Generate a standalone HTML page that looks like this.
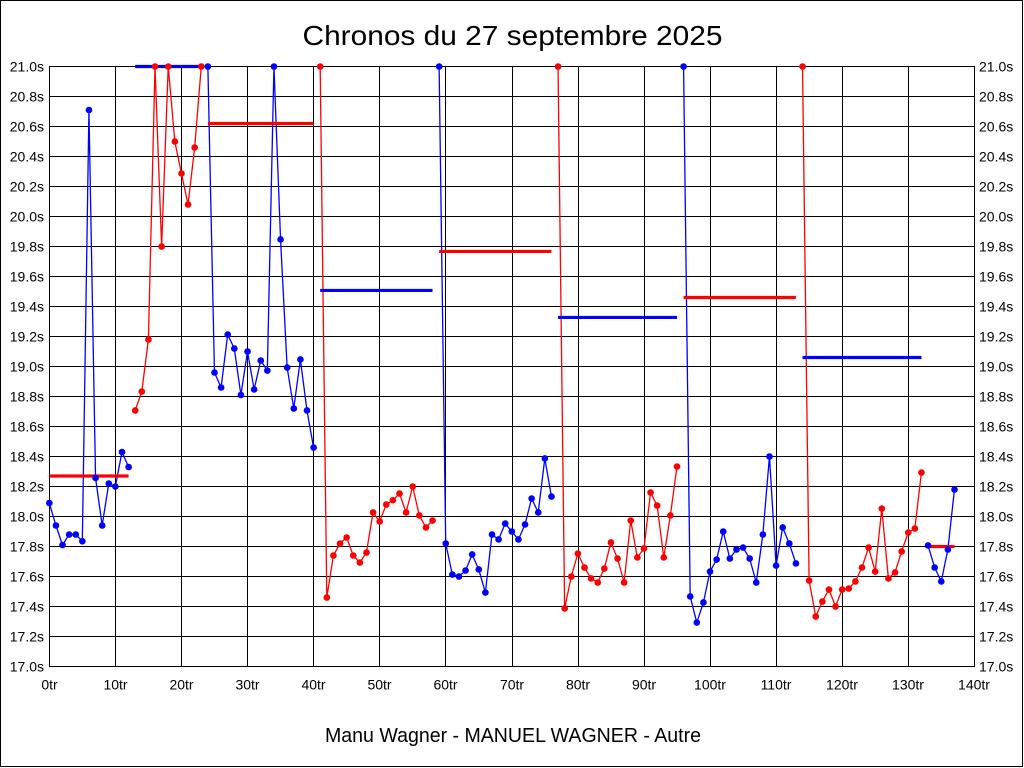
<!DOCTYPE html>
<html>
<head>
<meta charset="utf-8">
<style>
html,body{margin:0;padding:0;background:#fff;}
svg{display:block;}
text{font-family:"Liberation Sans",Arial,sans-serif;fill:#000;}
.yl{font-size:14px;}
.xl{font-size:14px;text-anchor:middle;}
</style>
</head>
<body>
<svg width="1024" height="768" viewBox="0 0 1024 768" xmlns="http://www.w3.org/2000/svg">
<rect x="0" y="0" width="1024" height="768" fill="#fff"/>
<rect x="0.5" y="0.5" width="1022" height="766" fill="none" stroke="#000" stroke-width="1"/>

<text x="512.5" y="45" font-size="28" text-anchor="middle" textLength="420" lengthAdjust="spacingAndGlyphs">Chronos du 27 septembre 2025</text>
<text x="513" y="742" font-size="20" text-anchor="middle" textLength="376" lengthAdjust="spacingAndGlyphs">Manu Wagner - MANUEL WAGNER - Autre</text>

<g stroke="#000" stroke-width="1" shape-rendering="crispEdges">
<line x1="49" y1="66.5" x2="975" y2="66.5"/>
<line x1="49" y1="96.5" x2="975" y2="96.5"/>
<line x1="49" y1="126.5" x2="975" y2="126.5"/>
<line x1="49" y1="156.5" x2="975" y2="156.5"/>
<line x1="49" y1="186.5" x2="975" y2="186.5"/>
<line x1="49" y1="216.5" x2="975" y2="216.5"/>
<line x1="49" y1="246.5" x2="975" y2="246.5"/>
<line x1="49" y1="276.5" x2="975" y2="276.5"/>
<line x1="49" y1="306.5" x2="975" y2="306.5"/>
<line x1="49" y1="336.5" x2="975" y2="336.5"/>
<line x1="49" y1="366.5" x2="975" y2="366.5"/>
<line x1="49" y1="396.5" x2="975" y2="396.5"/>
<line x1="49" y1="426.5" x2="975" y2="426.5"/>
<line x1="49" y1="456.5" x2="975" y2="456.5"/>
<line x1="49" y1="486.5" x2="975" y2="486.5"/>
<line x1="49" y1="516.5" x2="975" y2="516.5"/>
<line x1="49" y1="546.5" x2="975" y2="546.5"/>
<line x1="49" y1="576.5" x2="975" y2="576.5"/>
<line x1="49" y1="606.5" x2="975" y2="606.5"/>
<line x1="49" y1="636.5" x2="975" y2="636.5"/>
<line x1="49" y1="666.5" x2="975" y2="666.5"/>
<line x1="49.5" y1="66" x2="49.5" y2="667"/>
<line x1="115.5" y1="66" x2="115.5" y2="667"/>
<line x1="181.5" y1="66" x2="181.5" y2="667"/>
<line x1="247.5" y1="66" x2="247.5" y2="667"/>
<line x1="313.5" y1="66" x2="313.5" y2="667"/>
<line x1="379.5" y1="66" x2="379.5" y2="667"/>
<line x1="445.5" y1="66" x2="445.5" y2="667"/>
<line x1="512.5" y1="66" x2="512.5" y2="667"/>
<line x1="578.5" y1="66" x2="578.5" y2="667"/>
<line x1="644.5" y1="66" x2="644.5" y2="667"/>
<line x1="710.5" y1="66" x2="710.5" y2="667"/>
<line x1="776.5" y1="66" x2="776.5" y2="667"/>
<line x1="842.5" y1="66" x2="842.5" y2="667"/>
<line x1="908.5" y1="66" x2="908.5" y2="667"/>
<line x1="974.5" y1="66" x2="974.5" y2="667"/>
</g>

<g class="yl" text-anchor="end">
<text x="44" y="71.5">21.0s</text>
<text x="44" y="101.5">20.8s</text>
<text x="44" y="131.5">20.6s</text>
<text x="44" y="161.5">20.4s</text>
<text x="44" y="191.5">20.2s</text>
<text x="44" y="221.5">20.0s</text>
<text x="44" y="251.5">19.8s</text>
<text x="44" y="281.5">19.6s</text>
<text x="44" y="311.5">19.4s</text>
<text x="44" y="341.5">19.2s</text>
<text x="44" y="371.5">19.0s</text>
<text x="44" y="401.5">18.8s</text>
<text x="44" y="431.5">18.6s</text>
<text x="44" y="461.5">18.4s</text>
<text x="44" y="491.5">18.2s</text>
<text x="44" y="521.5">18.0s</text>
<text x="44" y="551.5">17.8s</text>
<text x="44" y="581.5">17.6s</text>
<text x="44" y="611.5">17.4s</text>
<text x="44" y="641.5">17.2s</text>
<text x="44" y="671.5">17.0s</text>
</g>
<g class="yl">
<text x="979" y="71.5">21.0s</text>
<text x="979" y="101.5">20.8s</text>
<text x="979" y="131.5">20.6s</text>
<text x="979" y="161.5">20.4s</text>
<text x="979" y="191.5">20.2s</text>
<text x="979" y="221.5">20.0s</text>
<text x="979" y="251.5">19.8s</text>
<text x="979" y="281.5">19.6s</text>
<text x="979" y="311.5">19.4s</text>
<text x="979" y="341.5">19.2s</text>
<text x="979" y="371.5">19.0s</text>
<text x="979" y="401.5">18.8s</text>
<text x="979" y="431.5">18.6s</text>
<text x="979" y="461.5">18.4s</text>
<text x="979" y="491.5">18.2s</text>
<text x="979" y="521.5">18.0s</text>
<text x="979" y="551.5">17.8s</text>
<text x="979" y="581.5">17.6s</text>
<text x="979" y="611.5">17.4s</text>
<text x="979" y="641.5">17.2s</text>
<text x="979" y="671.5">17.0s</text>
</g>
<g class="xl">
<text x="49.5" y="689.5">0tr</text>
<text x="115.5" y="689.5">10tr</text>
<text x="181.5" y="689.5">20tr</text>
<text x="247.5" y="689.5">30tr</text>
<text x="313.5" y="689.5">40tr</text>
<text x="379.5" y="689.5">50tr</text>
<text x="445.5" y="689.5">60tr</text>
<text x="512" y="689.5">70tr</text>
<text x="578" y="689.5">80tr</text>
<text x="644" y="689.5">90tr</text>
<text x="710" y="689.5">100tr</text>
<text x="776" y="689.5">110tr</text>
<text x="842" y="689.5">120tr</text>
<text x="908" y="689.5">130tr</text>
<text x="974" y="689.5">140tr</text>
</g>

<!-- data in (lap, seconds) units -->
<g transform="matrix(6.607 0 0 -150 49.3 3216.5)" fill="none" stroke-linejoin="round">
<g stroke="#0000ff" stroke-width="1.3">
<polyline vector-effect="non-scaling-stroke" points="0,18.09 1,17.94 2,17.81 3,17.88 4,17.88 5,17.835 6,20.71 7,18.257 8,17.94 9,18.22 10,18.2 11,18.43 12,18.33"/>
<polyline vector-effect="non-scaling-stroke" points="24,21 25,18.96 26,18.86 27,19.213 28,19.12 29,18.81 30,19.1 31,18.847 32,19.04 33,18.973 34,21 35,19.847 36,18.993 37,18.72 38,19.047 39,18.707 40,18.46"/>
<polyline vector-effect="non-scaling-stroke" points="59,21 60,17.82 61,17.613 62,17.6 63,17.64 64,17.747 65,17.647 66,17.493 67,17.88 68,17.847 69,17.953 70,17.9 71,17.847 72,17.947 73,18.12 74,18.027 75,18.387 76,18.133"/>
<polyline vector-effect="non-scaling-stroke" points="96,21 97,17.467 98,17.293 99,17.427 100,17.633 101,17.713 102,17.9 103,17.72 104,17.78 105,17.793 106,17.72 107,17.56 108,17.88 109,18.4 110,17.673 111,17.927 112,17.82 113,17.687"/>
<polyline vector-effect="non-scaling-stroke" points="133,17.807 134,17.66 135,17.567 136,17.78 137,18.18"/>
</g>
<g stroke="#ff0000" stroke-width="1.3">
<polyline vector-effect="non-scaling-stroke" points="13,18.707 14,18.833 15,19.18 16,21 17,19.8 18,21 19,20.5 20,20.287 21,20.08 22,20.46 23,21"/>
<polyline vector-effect="non-scaling-stroke" points="41,21 42,17.46 43,17.74 44,17.82 45,17.86 46,17.74 47,17.693 48,17.76 49,18.027 50,17.967 51,18.08 52,18.109 53,18.153 54,18.027 55,18.2 56,18.007 57,17.927 58,17.973"/>
<polyline vector-effect="non-scaling-stroke" points="77,21 78,17.387 79,17.6 80,17.753 81,17.66 82,17.587 83,17.56 84,17.653 85,17.827 86,17.72 87,17.56 88,17.973 89,17.727 90,17.787 91,18.16 92,18.073 93,17.727 94,18.007 95,18.333"/>
<polyline vector-effect="non-scaling-stroke" points="114,21 115,17.573 116,17.333 117,17.433 118,17.513 119,17.4 120,17.513 121,17.52 122,17.567 123,17.66 124,17.793 125,17.633 126,18.053 127,17.587 128,17.627 129,17.767 130,17.893 131,17.92 132,18.293"/>
</g>
<!-- average lines -->
<g stroke-width="3.2" stroke-linecap="butt">
<path vector-effect="non-scaling-stroke" stroke="#ff0000" d="M0,18.27H12 M24,20.62H40 M59,19.767H76 M96,19.46H113 M133,17.8H137"/>
<path vector-effect="non-scaling-stroke" stroke="#0000ff" d="M13,21H23 M41,19.507H58 M77,19.327H95 M114,19.06H132"/>
</g>
<!-- dots -->
<g stroke-width="6.6" stroke-linecap="round">
<path vector-effect="non-scaling-stroke" stroke="#0000ff" d="M0,18.09h.01M1,17.94h.01M2,17.81h.01M3,17.88h.01M4,17.88h.01M5,17.835h.01M6,20.71h.01M7,18.257h.01M8,17.94h.01M9,18.22h.01M10,18.2h.01M11,18.43h.01M12,18.33h.01
M24,21h.01M25,18.96h.01M26,18.86h.01M27,19.213h.01M28,19.12h.01M29,18.81h.01M30,19.1h.01M31,18.847h.01M32,19.04h.01M33,18.973h.01M34,21h.01M35,19.847h.01M36,18.993h.01M37,18.72h.01M38,19.047h.01M39,18.707h.01M40,18.46h.01
M59,21h.01M60,17.82h.01M61,17.613h.01M62,17.6h.01M63,17.64h.01M64,17.747h.01M65,17.647h.01M66,17.493h.01M67,17.88h.01M68,17.847h.01M69,17.953h.01M70,17.9h.01M71,17.847h.01M72,17.947h.01M73,18.12h.01M74,18.027h.01M75,18.387h.01M76,18.133h.01
M96,21h.01M97,17.467h.01M98,17.293h.01M99,17.427h.01M100,17.633h.01M101,17.713h.01M102,17.9h.01M103,17.72h.01M104,17.78h.01M105,17.793h.01M106,17.72h.01M107,17.56h.01M108,17.88h.01M109,18.4h.01M110,17.673h.01M111,17.927h.01M112,17.82h.01M113,17.687h.01
M133,17.807h.01M134,17.66h.01M135,17.567h.01M136,17.78h.01M137,18.18h.01"/>
<path vector-effect="non-scaling-stroke" stroke="#ff0000" d="M13,18.707h.01M14,18.833h.01M15,19.18h.01M16,21h.01M17,19.8h.01M18,21h.01M19,20.5h.01M20,20.287h.01M21,20.08h.01M22,20.46h.01M23,21h.01
M41,21h.01M42,17.46h.01M43,17.74h.01M44,17.82h.01M45,17.86h.01M46,17.74h.01M47,17.693h.01M48,17.76h.01M49,18.027h.01M50,17.967h.01M51,18.08h.01M52,18.109h.01M53,18.153h.01M54,18.027h.01M55,18.2h.01M56,18.007h.01M57,17.927h.01M58,17.973h.01
M77,21h.01M78,17.387h.01M79,17.6h.01M80,17.753h.01M81,17.66h.01M82,17.587h.01M83,17.56h.01M84,17.653h.01M85,17.827h.01M86,17.72h.01M87,17.56h.01M88,17.973h.01M89,17.727h.01M90,17.787h.01M91,18.16h.01M92,18.073h.01M93,17.727h.01M94,18.007h.01M95,18.333h.01
M114,21h.01M115,17.573h.01M116,17.333h.01M117,17.433h.01M118,17.513h.01M119,17.4h.01M120,17.513h.01M121,17.52h.01M122,17.567h.01M123,17.66h.01M124,17.793h.01M125,17.633h.01M126,18.053h.01M127,17.587h.01M128,17.627h.01M129,17.767h.01M130,17.893h.01M131,17.92h.01M132,18.293h.01"/>
</g>
</g>
</svg>
</body>
</html>
